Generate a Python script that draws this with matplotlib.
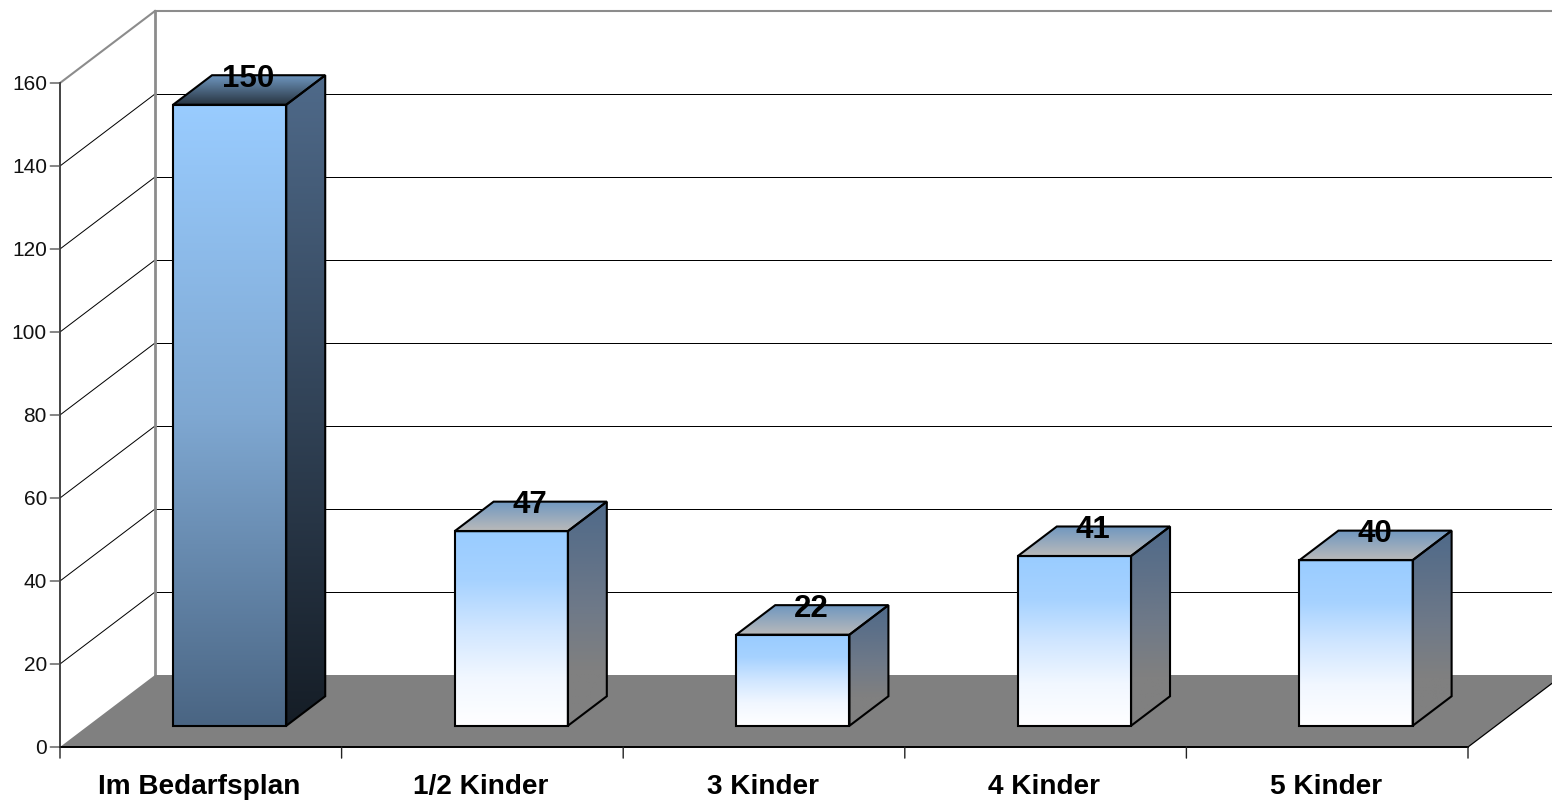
import numpy as np
import matplotlib
matplotlib.use('Agg')
import matplotlib.pyplot as plt
from matplotlib.colors import LinearSegmentedColormap
from matplotlib.patches import Polygon

plt.rcParams['font.family'] = ['Liberation Sans', 'DejaVu Sans']

categories = ['Im Bedarfsplan', '1/2 Kinder', '3 Kinder', '4 Kinder', '5 Kinder']
values = [150, 47, 22, 41, 40]
y_ticks = [0, 20, 40, 60, 80, 100, 120, 140, 160]

# chart geometry, pixels of the 1552x801 picture
px_cat = 281.6  # one category
px_val = 4.15  # one value unit
x0_px, y0_px = 60, 747  # front corner of the axes
wall_dx = 95 / px_cat  # shift from front to back wall
wall_dy = 72 / px_val
bar_width = 0.402
bar_shift = 0.003
bar_start = 0.295  # depth where the bars begin, 0 front 1 back
bar_depth = 0.41
bar_scale = 0.9976
xmax = len(categories)

# gradients, first colour at the top
front_dark = ['#99CCFF', '#7FA8D2', '#4A6583']
front_light = ['#99CCFF', '#A6D2FF', '#D0E6FF', '#F1F7FF', '#FFFFFF']
side_dark = ['#4F6A8A', '#151D26']
side_light = ['#4F6A8A', '#5F7188', '#707A88', '#808080', '#808080']
top_dark = ['#6F97C0', '#27333F']
top_light = ['#6F97C0', '#BABABA']


def project(x, v, depth=0.0):
    return x + depth * wall_dx, v + depth * wall_dy


def face(ax, corners, colors, z):
    # polygon filled with a vertical gradient and a black outline
    pts = np.array(corners)
    cmap = LinearSegmentedColormap.from_list('face', colors)
    grad = np.linspace(0, 1, 256).reshape(-1, 1)
    im = ax.imshow(grad, cmap=cmap, aspect='auto', origin='upper', zorder=z,
                   interpolation='bilinear',
                   extent=(pts[:, 0].min(), pts[:, 0].max(), pts[:, 1].min(), pts[:, 1].max()))
    outline = Polygon(pts, closed=True, facecolor='none', edgecolor='black',
                      linewidth=1.5, joinstyle='miter', zorder=z + 0.1)
    ax.add_patch(outline)
    im.set_clip_path(outline)


fig = plt.figure(figsize=(15.52, 8.01), dpi=100)
ax = fig.add_axes([0, 0, 1, 1])
ax.axis('off')

# floor
floor = [project(0, 0), project(xmax, 0), project(xmax, 0, 1), project(0, 0, 1)]
ax.add_patch(Polygon(floor, closed=True, facecolor='#808080', edgecolor='none', zorder=1))

# walls and grid, diagonal and flat part apart so the flat one stays crisp
for v in y_ticks[1:]:
    color = '#8C8C8C' if v == y_ticks[-1] else 'black'
    lw = 1.5 if v == y_ticks[-1] else 0.72
    xa, ya = project(0, v)
    xb, yb = project(0, v, 1)
    xc, yc = project(xmax, v, 1)
    ax.plot([xa, xb], [ya, yb], color=color, lw=lw, zorder=0.5)
    ax.plot([xb, xc], [yb, yc], color=color, lw=lw, zorder=0.5)
xb, yb = project(0, 0, 1)
xc, yc = project(0, y_ticks[-1], 1)
ax.plot([xb, xc], [yb, yc], color='#8C8C8C', lw=2, zorder=0.6)

# axes in front
ax.plot([0, 0], [0, y_ticks[-1]], color='#222222', lw=1.2, zorder=2)
ax.plot([0, xmax], [0, 0], color='black', lw=1.4, zorder=2)
xa, ya = project(xmax, 0)
xb, yb = project(xmax, 0, 1)
ax.plot([xa, xb], [ya, yb], color='black', lw=0.9, zorder=2)

for v in y_ticks:
    ax.annotate('', (0, v), xytext=(-7, 0), textcoords='offset points',
                arrowprops=dict(arrowstyle='-', color='#555555', lw=1, shrinkA=0, shrinkB=0))
    ax.annotate(str(v), (0, v), xytext=(-9.4, -1), textcoords='offset points',
                ha='right', va='center', fontsize=15, color='#111111', zorder=5)

for i in range(xmax + 1):
    ax.annotate('', (i, 0), xytext=(0, -8), textcoords='offset points',
                arrowprops=dict(arrowstyle='-', color='#222222', lw=1, shrinkA=0, shrinkB=0))

for i, name in enumerate(categories):
    ax.annotate(name, (i + 0.5, 0), xytext=(-1, -29), textcoords='offset points',
                ha='center', va='center', fontsize=20.2, fontweight='bold', color='black', zorder=5)

# bars
for i, v in enumerate(values):
    left = i + 0.5 + bar_shift - bar_width / 2
    right = i + 0.5 + bar_shift + bar_width / 2
    h = v * bar_scale
    near = bar_start
    far = bar_start + bar_depth
    dark = i == 0
    face(ax, [project(left, 0, near), project(right, 0, near),
              project(right, h, near), project(left, h, near)],
         front_dark if dark else front_light, 3)
    face(ax, [project(right, 0, near), project(right, 0, far),
              project(right, h, far), project(right, h, near)],
         side_dark if dark else side_light, 3)
    face(ax, [project(left, h, near), project(right, h, near),
              project(right, h, far), project(left, h, far)],
         top_dark if dark else top_light, 3)
    tx, ty = project(i + 0.5 + bar_shift, h, (near + far) / 2)
    ax.annotate(str(v), (tx, ty), xytext=(-0.5, 8), textcoords='offset points',
                ha='center', va='center', fontsize=22.5, fontweight='bold', color='black', zorder=6)

ax.set_xlim((0 - x0_px) / px_cat, (1552 - x0_px) / px_cat)
ax.set_ylim((y0_px - 801) / px_val, y0_px / px_val)

fig.savefig('out.png', dpi=100, facecolor='white')
